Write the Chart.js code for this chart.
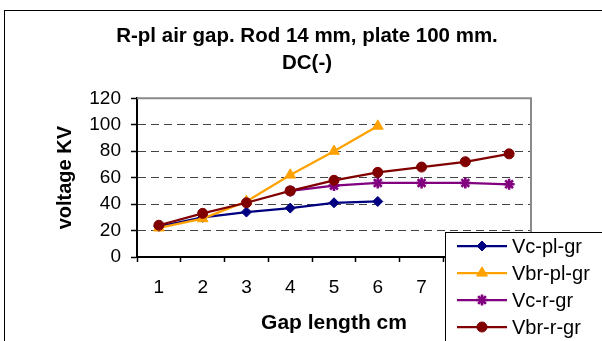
<!DOCTYPE html>
<html>
<head>
<meta charset="utf-8">
<script src="https://cdn.jsdelivr.net/npm/chart.js@4/dist/chart.umd.min.js"></script>
<style>
  html, body { margin: 0; padding: 0; background: #fff; }
  canvas { display: block; }
</style>
</head>
<body>
<canvas id="c" width="602" height="341"></canvas>
<script>
// Gap lengths (cm) and measured voltages (kV)
const gapLengths = ['1', '2', '3', '4', '5', '6', '7', '8', '9'];
const vcPlateGr  = [23, 30, 34, 37, 41, 42, null, null, null];
const vbrPlateGr = [22, 29, 42, 62, 80, 99, null, null, null];
const vcRodGr    = [null, null, null, 50, 54, 56, 56, 56, 55];
const vbrRodGr   = [24, 33, 41, 50, 58, 64, 68, 72, 78];
const seriesNames = ['Vc-pl-gr', 'Vbr-pl-gr', 'Vc-r-gr', 'Vbr-r-gr'];
const voltageRange = [0, 120];
const voltageStep = 20;
const chartTitle = ['R-pl air gap. Rod 14 mm, plate 100 mm.', 'DC(-)'];
const xTitle = 'Gap length cm';
const yTitle = 'voltage KV';

const FONT = '"Liberation Sans", Arial, sans-serif';

function series(label, data, color, style, radius, order) {
  return {
    label, data, order,
    yAxisID: 'y',
    borderColor: color,
    backgroundColor: color,
    borderWidth: 2.25,
    pointStyle: style,
    pointRadius: radius,
    pointHoverRadius: radius,
    pointBorderWidth: style === 'star' ? 2.6 : 1,
    pointBorderColor: color,
    pointBackgroundColor: color,
    spanGaps: false,
    tension: 0
  };
}

// Outer frame and white background
const framePlugin = {
  id: 'frame',
  beforeDraw(chart) {
    const ctx = chart.ctx;
    ctx.save();
    ctx.fillStyle = '#fff';
    ctx.fillRect(0, 0, chart.width, chart.height);
    ctx.strokeStyle = '#000';
    ctx.lineWidth = 1;
    ctx.strokeRect(4.5, 10.5, chart.width + 20, chart.height + 20);
    ctx.restore();
  },
  beforeDatasetsDraw(chart) {
    // grey top/right edges of the plot area
    const a = chart.chartArea, ctx = chart.ctx;
    ctx.save();
    ctx.strokeStyle = '#8a8a8a';
    ctx.lineWidth = 2;
    ctx.beginPath();
    ctx.moveTo(a.left, a.top);
    ctx.lineTo(a.right, a.top);
    ctx.lineTo(a.right, a.bottom);
    ctx.stroke();
    ctx.restore();
  }
};

// Boxed legend in the lower right corner, overlapping the axis
const legendBoxPlugin = {
  id: 'legendBox',
  afterDraw(chart) {
    const ctx = chart.ctx;
    const boxX = 445.5, boxY = 232.5;
    ctx.save();
    ctx.fillStyle = '#fff';
    ctx.fillRect(boxX, boxY, 200, 150);
    ctx.strokeStyle = '#000';
    ctx.lineWidth = 1;
    ctx.strokeRect(boxX, boxY, 200, 150);
    ctx.font = '20px ' + FONT;
    ctx.textBaseline = 'middle';
    ctx.textAlign = 'left';
    chart.data.datasets.forEach((ds, i) => {
      const y = 246 + i * 27;
      ctx.strokeStyle = ds.borderColor;
      ctx.lineWidth = ds.borderWidth;
      ctx.beginPath();
      ctx.moveTo(457, y);
      ctx.lineTo(507, y);
      ctx.stroke();
      ctx.fillStyle = ds.pointBackgroundColor;
      ctx.strokeStyle = ds.pointBorderColor;
      ctx.lineWidth = ds.pointBorderWidth;
      Chart.helpers.drawPoint(ctx, {
        pointStyle: ds.pointStyle,
        radius: ds.pointRadius,
        rotation: 0,
        borderWidth: ds.pointBorderWidth
      }, 482, y);
      ctx.fillStyle = '#000';
      ctx.fillText(ds.label, 512, y + 1);
    });
    ctx.restore();
  }
};

new Chart(document.getElementById('c'), {
  type: 'line',
  data: {
    labels: gapLengths,
    datasets: [
      series(seriesNames[0], vcPlateGr,  '#000080', 'rectRot', 5, 4),
      series(seriesNames[1], vbrPlateGr, '#ffa200', 'triangle', 6.2, 3),
      series(seriesNames[2], vcRodGr,    '#800080', 'star', 5.5, 2),
      series(seriesNames[3], vbrRodGr,   '#800000', 'circle', 5, 1)
    ]
  },
  options: {
    responsive: false,
    animation: false,
    devicePixelRatio: 1,
    layout: { padding: { top: 0, right: 0, bottom: 0, left: 12 } },
    plugins: {
      legend: { display: false },
      tooltip: { enabled: false },
      title: {
        display: true,
        text: chartTitle,
        color: '#000',
        font: { family: FONT, size: 20.5, weight: 'bold', lineHeight: 1.3 },
        padding: { top: 23, bottom: 22 }
      }
    },
    scales: {
      x: {
        type: 'category',
        offset: true,
        afterFit(scale) { scale.height = 84; },
        grid: {
          offset: true,
          drawOnChartArea: false,
          drawTicks: true,
          tickLength: 5,
          tickColor: '#000',
          tickWidth: 1.5
        },
        border: { display: true, color: '#000', width: 2 },
        ticks: {
          color: '#000',
          font: { family: FONT, size: 19 },
          padding: 14,
          maxRotation: 0,
          autoSkip: false
        },
        title: {
          display: true,
          text: xTitle,
          color: '#000',
          font: { family: FONT, size: 21, weight: 'bold', lineHeight: 1.2 },
          padding: { top: 0, bottom: 5 }
        }
      },
      y: {
        position: 'left',
        min: voltageRange[0],
        max: voltageRange[1],
        afterFit(scale) { scale.width = 125; },
        grid: {
          color: (c) => (c.tick && (c.tick.value === voltageRange[0] || c.tick.value === voltageRange[1])) ? 'rgba(0,0,0,0)' : '#444',
          lineWidth: 1,
          drawTicks: true,
          tickLength: 6,
          tickColor: '#000',
          tickWidth: 1.5
        },
        border: { display: true, color: '#000', width: 2, dash: [8, 5] },
        ticks: {
          stepSize: voltageStep,
          color: '#000',
          font: { family: FONT, size: 19 },
          padding: 10
        },
        title: {
          display: true,
          text: yTitle,
          color: '#000',
          font: { family: FONT, size: 20, weight: 'bold', lineHeight: 1.2 },
          padding: { top: 41, bottom: 0 }
        }
      },
      // empty margin on the right of the plot area
      yRight: {
        position: 'right',
        min: voltageRange[0],
        max: voltageRange[1],
        afterFit(scale) { scale.width = 71; },
        grid: { display: false, drawTicks: false },
        border: { display: false },
        ticks: { display: false },
        title: { display: false }
      }
    }
  },
  plugins: [framePlugin, legendBoxPlugin]
});
</script>
</body>
</html>
